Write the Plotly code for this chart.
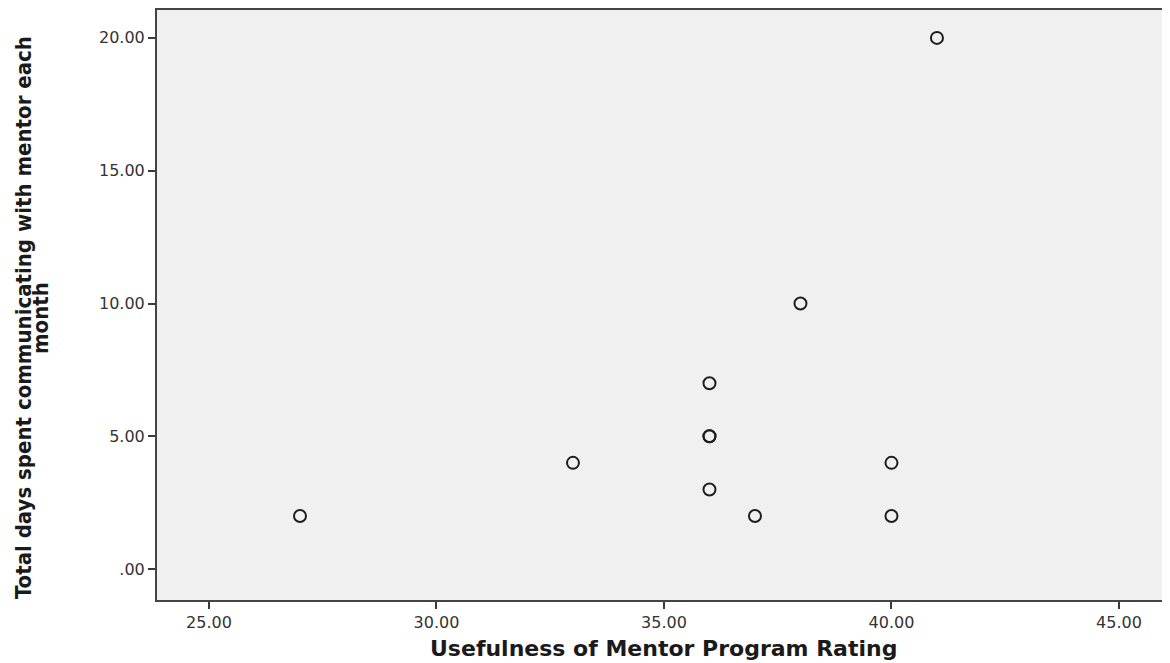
import plotly.graph_objects as go

rating = [27, 33, 36, 36, 36, 36, 37, 38, 40, 40, 41]
days = [2, 4, 7, 5, 5, 3, 2, 10, 4, 2, 20]

x_ticks = [25, 30, 35, 40, 45]
x_labels = ["25.00", "30.00", "35.00", "40.00", "45.00"]
y_ticks = [0, 5, 10, 15, 20]
y_labels = [".00", "5.00", "10.00", "15.00", "20.00"]

x_title = "Usefulness of Mentor Program Rating"
y_title_lines = ["Total days spent communicating with mentor each", "month"]

fig = go.Figure()
fig.add_trace(go.Scatter(
    x=rating, y=days, mode="markers",
    marker=dict(symbol="circle-open", size=12, color="#1e1e1e", line=dict(width=2)),
    showlegend=False, hoverinfo="x+y",
))

axis_common = dict(
    showgrid=False, zeroline=False, showline=True, linecolor="#444444", linewidth=2,
    mirror=True, ticks="outside", ticklen=7, tickwidth=2, tickcolor="#3a3a3a",
    tickfont=dict(family="DejaVu Sans", size=16, color="#333333"),
)

fig.update_layout(
    width=1170, height=663,
    margin=dict(l=149, r=9, t=0, b=71),
    paper_bgcolor="white", plot_bgcolor="#f0f0f0",
    xaxis=dict(range=[23.857, 46.1], tickvals=x_ticks, ticktext=x_labels, **axis_common),
    yaxis=dict(range=[-1.163, 21.05], tickvals=y_ticks, ticktext=y_labels, **axis_common),
    annotations=[
        dict(text="<b>%s</b>" % x_title, xref="paper", yref="paper", x=0.5, y=-0.083,
             xanchor="center", yanchor="middle", showarrow=False,
             font=dict(family="DejaVu Sans", size=22, color="#1a1a1a")),
        dict(text="<b>%s</b>" % y_title_lines[0], xref="paper", yref="paper", x=-0.1314, y=0.478,
             xanchor="center", yanchor="middle", textangle=-90, showarrow=False,
             font=dict(family="DejaVu Sans Condensed, DejaVu Sans", size=22, color="#1a1a1a")),
        dict(text="<b>%s</b>" % y_title_lines[1], xref="paper", yref="paper", x=-0.1146, y=0.478,
             xanchor="center", yanchor="middle", textangle=-90, showarrow=False,
             font=dict(family="DejaVu Sans Condensed, DejaVu Sans", size=22, color="#1a1a1a")),
    ],
)

fig.write_html("out.html")
